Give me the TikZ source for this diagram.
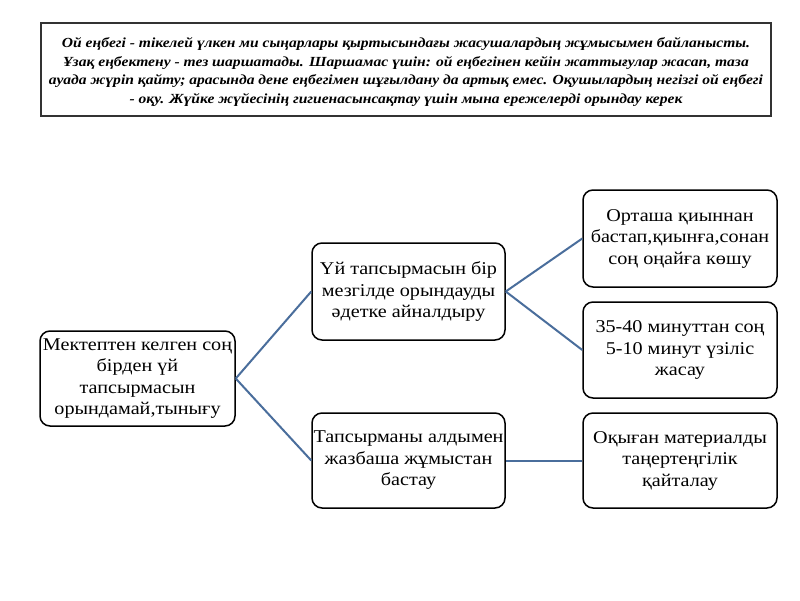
\documentclass[tikz,border=0pt]{standalone}
\usepackage{fontspec}
\setmainfont[FakeStretch=1.12]{Liberation Serif}
\definecolor{linkblue}{HTML}{4A6E9C}
\definecolor{framegray}{HTML}{333333}
\begin{document}
\begin{tikzpicture}[x=1pt,y=-1pt,
  box/.style={draw=black, line width=1.5pt, rounded corners=10pt, fill=white,
    align=center, inner sep=0pt, minimum width=194pt, minimum height=96pt,
    font=\fontsize{18}{21.5}\selectfont},
  titleframe/.style={draw=framegray, line width=2.2pt, fill=white},
  titletext/.style={align=center, inner sep=0pt,
    font=\fontsize{13.9}{18.6}\selectfont\bfseries\itshape},
  link/.style={draw=linkblue, line width=2pt}]
\useasboundingbox (0,0) rectangle (800,600);
\fill[white] (0,0) rectangle (800,600);

\draw[titleframe] (41,23) rectangle (771,116);
\node[titletext] (T) at (406,72) {Ой еңбегі - тікелей үлкен ми сыңарлары қыртысындағы жасушалардың жұмысымен байланысты.\\
Ұзақ еңбектену - тез шаршатады. Шаршамас үшін: ой еңбегінен кейін жаттығулар жасап, таза\\
ауада жүріп қайту; арасында дене еңбегімен шұғылдану да артық емес. Оқушылардың негізгі ой еңбегі\\
- оқу. Жүйке жүйесінің гигиенасынсақтау үшін мына ережелерді орындау керек};

\node[box, minimum width=195pt, minimum height=95pt] (L) at (137.5,378.5) {Мектептен келген соң\\бірден үй\\тапсырмасын\\орындамай,тынығу};
\node[box, minimum width=193pt, minimum height=97pt] (MT) at (408.5,291.5) {Үй тапсырмасын бір\\мезгілде орындауды\\әдетке айналдыру};
\node[box, minimum width=193pt, minimum height=95pt] (MB) at (408.5,460.5) {Тапсырманы алдымен\\жазбаша жұмыстан\\бастау};
\node[box, minimum height=97pt] (RT) at (680,238.5) {Орташа қиыннан\\бастап,қиынға,сонан\\соң оңайға көшу};
\node[box] (RM) at (680,350) {35-40 минуттан соң\\5-10 минут үзіліс\\жасау};
\node[box, minimum height=95pt] (RB) at (680,460.5) {Оқыған материалды\\таңертеңгілік\\қайталау};

\draw[link] (L.east) -- (MT.west);
\draw[link] (L.east) -- (MB.west);
\draw[link] (MT.east) -- (RT.west);
\draw[link] (MT.east) -- (RM.west);
\draw[link] (MB.east) -- (RB.west);
\end{tikzpicture}
\end{document}
